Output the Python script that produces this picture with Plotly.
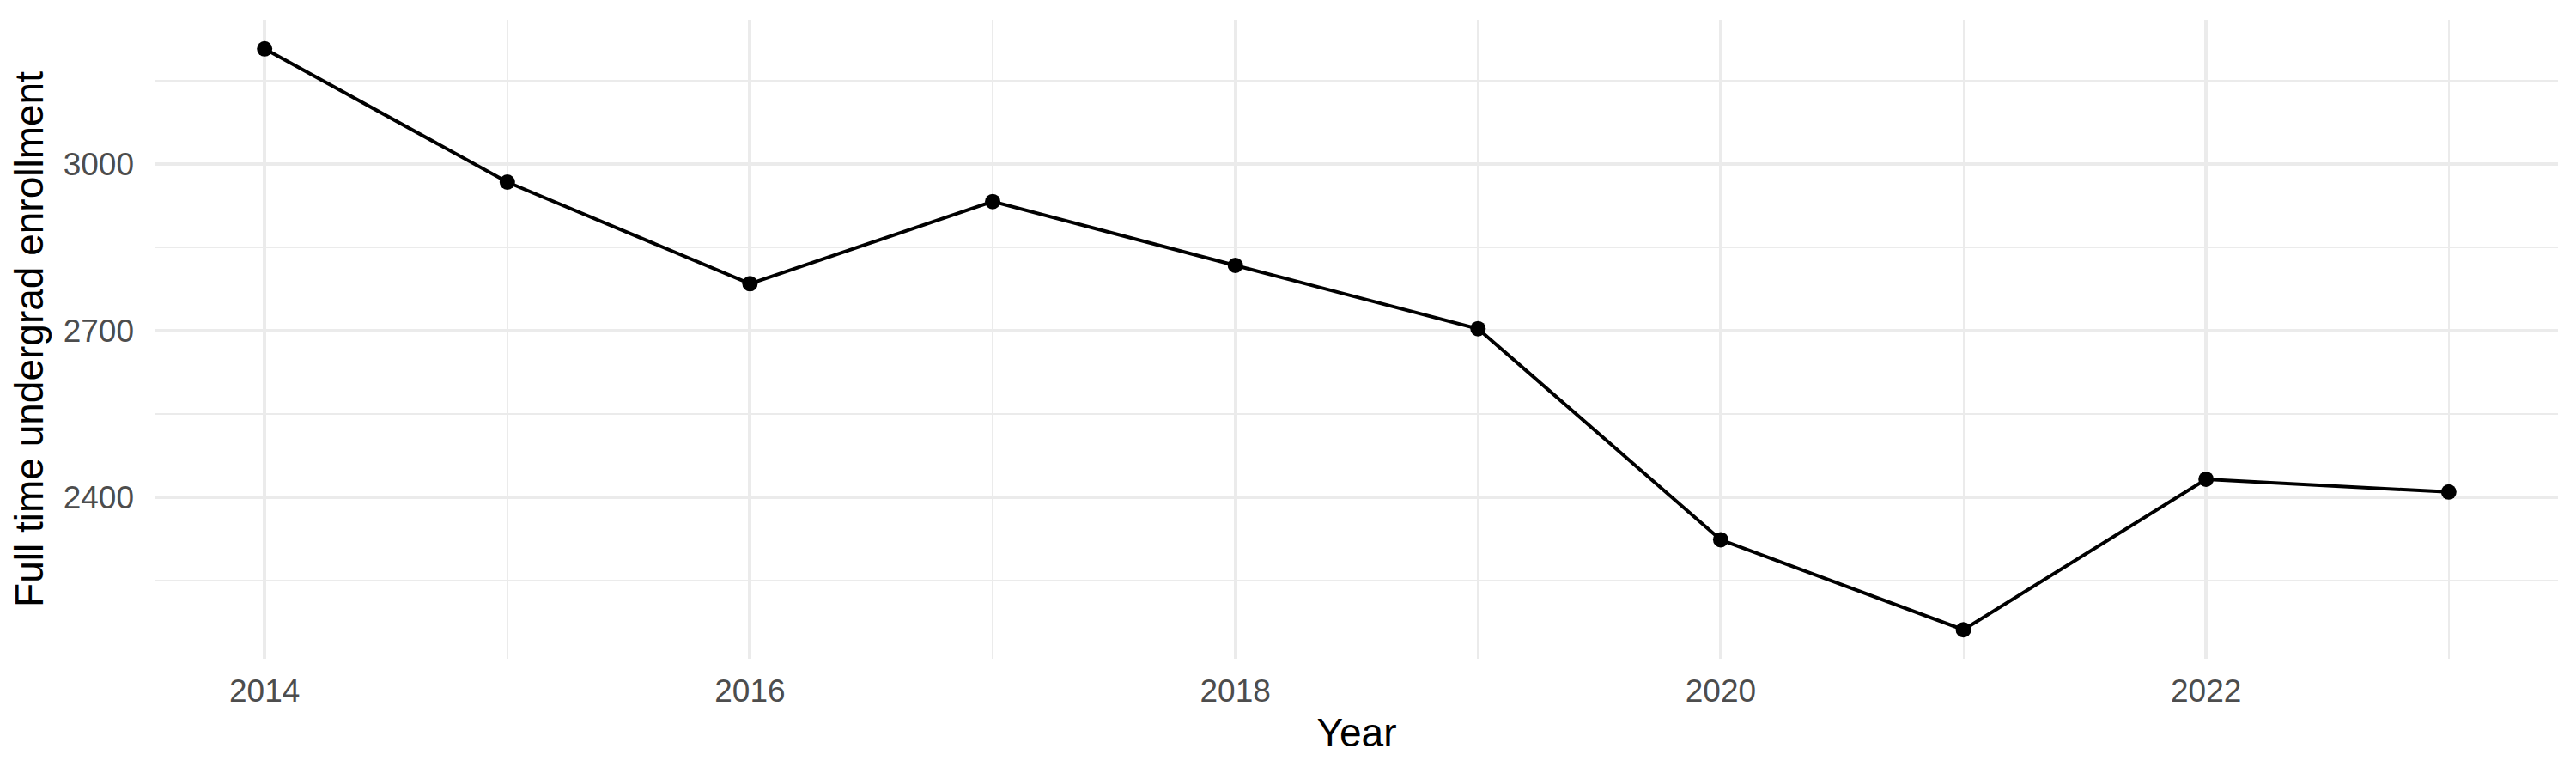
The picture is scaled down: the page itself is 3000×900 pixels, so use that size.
import plotly.graph_objects as go

# full time undergrad enrollment by year
years = [2014, 2015, 2016, 2017, 2018, 2019, 2020, 2021, 2022, 2023]
enrollment = [3207, 2967, 2784, 2932, 2817, 2703, 2323, 2161, 2432, 2409]

x_title = "Year"
y_title = "Full time undergrad enrollment"

grid_col = "#EBEBEB"
tick_col = "#4D4D4D"
font_family = "Liberation Sans"

fig = go.Figure()

fig.add_trace(
    go.Scatter(
        x=years,
        y=enrollment,
        mode="lines+markers",
        line=dict(color="black", width=4),
        marker=dict(color="black", size=18),
        showlegend=False,
    )
)

# ggplot-style padding: 5% of the data range on each side
x_pad = (max(years) - min(years)) * 0.05
y_pad = (max(enrollment) - min(enrollment)) * 0.05

fig.update_layout(
    width=3000,
    height=900,
    margin=dict(l=173, r=29, t=15, b=141),
    plot_bgcolor="white",
    paper_bgcolor="white",
    font=dict(family=font_family, color="black"),
)

fig.update_xaxes(
    range=[min(years) - x_pad, max(years) + x_pad],
    tick0=2014,
    dtick=2,
    showgrid=True,
    gridcolor=grid_col,
    gridwidth=3.5,
    minor=dict(dtick=1, tick0=2014, showgrid=True, gridcolor=grid_col, gridwidth=1.8),
    zeroline=False,
    showline=False,
    ticks="",
    tickfont=dict(size=37, color=tick_col, family=font_family),
    ticklabelstandoff=12,
    title=dict(text=x_title, font=dict(size=46, color="black"), standoff=12),
)

fig.update_yaxes(
    range=[min(enrollment) - y_pad, max(enrollment) + y_pad],
    tick0=2400,
    dtick=300,
    showgrid=True,
    gridcolor=grid_col,
    gridwidth=3.5,
    minor=dict(dtick=150, tick0=2400, showgrid=True, gridcolor=grid_col, gridwidth=1.8),
    zeroline=False,
    showline=False,
    ticks="",
    tickfont=dict(size=37, color=tick_col, family=font_family),
    ticklabelstandoff=24,
    title=dict(text=y_title, font=dict(size=46, color="black"), standoff=10),
)

fig.write_html("out.html")
